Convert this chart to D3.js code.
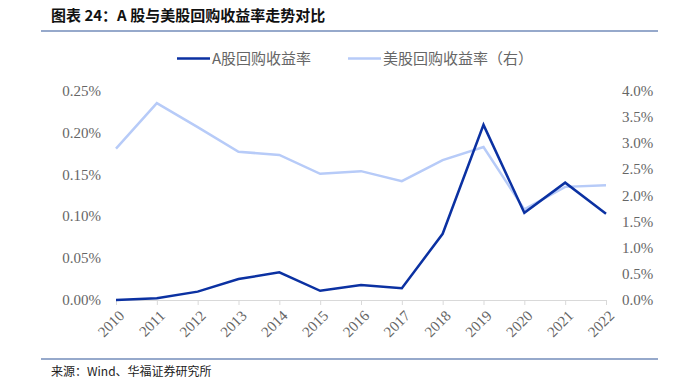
<!DOCTYPE html>
<html>
<head>
<meta charset="utf-8">
<script src="https://cdn.jsdelivr.net/npm/d3@7"></script>
<style>
  body { margin: 0; background: #fff; }
  svg { display: block; }
  .serif { font-family: "Liberation Serif", "Times New Roman", serif; }
  .cjk { font-family: "Noto Sans CJK SC", "Noto Sans", sans-serif; }
</style>
</head>
<body>
<div id="chart"></div>
<script>
// A股 vs 美股 buyback yield, 2010-2022
const years = ['2010', '2011', '2012', '2013', '2014', '2015', '2016',
  '2017', '2018', '2019', '2020', '2021', '2022'];
// left axis, %
const cnYield = [0.000, 0.002, 0.010, 0.025, 0.033, 0.011, 0.018,
  0.014, 0.079, 0.209, 0.104, 0.140, 0.103];
// right axis, %
const usYield = [2.89, 3.76, 3.30, 2.83, 2.77, 2.41, 2.46,
  2.27, 2.67, 2.92, 1.73, 2.16, 2.19];
const leftTicks = [0, 0.05, 0.10, 0.15, 0.20, 0.25];
const rightTicks = [0, 0.5, 1.0, 1.5, 2.0, 2.5, 3.0, 3.5, 4.0];
const seriesNames = ['A股回购收益率', '美股回购收益率（右）'];

const width = 679;
const height = 384;
const darkBlue = '#0b31a2';
const lightBlue = '#b7cbf8';
const labelGrey = '#666';

const svg = d3.select('#chart')
  .append('svg')
  .attr('width', width)
  .attr('height', height);

// header + footer rules
svg.append('text')
  .attr('class', 'cjk')
  .attr('x', 51)
  .attr('y', 21)
  .attr('font-weight', 'bold')
  .attr('font-size', 15)
  .attr('fill', '#111')
  .text('图表 24：A 股与美股回购收益率走势对比');

svg.append('line')
  .attr('x1', 41).attr('x2', 658)
  .attr('y1', 31).attr('y2', 31)
  .attr('stroke', '#2f5597').attr('stroke-width', 1.2);

svg.append('line')
  .attr('x1', 41).attr('x2', 658)
  .attr('y1', 359).attr('y2', 359)
  .attr('stroke', '#2f5597').attr('stroke-width', 1.2);

svg.append('text')
  .attr('class', 'cjk')
  .attr('x', 51)
  .attr('y', 376)
  .attr('font-size', 12)
  .attr('fill', '#222')
  .text('来源：Wind、华福证券研究所');

// scales
const x = d3.scalePoint().domain(years).range([116, 606]);
const yLeft = d3.scaleLinear().domain([0, 0.25]).range([300, 90.5]);
const yRight = d3.scaleLinear().domain([0, 4.0]).range([300, 90.5]);

// left axis labels
svg.append('g')
  .selectAll('text')
  .data(leftTicks)
  .join('text')
  .attr('class', 'serif')
  .attr('x', 101)
  .attr('y', d => yLeft(d))
  .attr('dy', '0.35em')
  .attr('text-anchor', 'end')
  .attr('font-size', 15)
  .attr('fill', labelGrey)
  .text(d => d3.format('.2f')(d) + '%');

// right axis labels
svg.append('g')
  .selectAll('text')
  .data(rightTicks)
  .join('text')
  .attr('class', 'serif')
  .attr('x', 622)
  .attr('y', d => yRight(d))
  .attr('dy', '0.35em')
  .attr('text-anchor', 'start')
  .attr('font-size', 15)
  .attr('fill', labelGrey)
  .text(d => d3.format('.1f')(d) + '%');

// x axis
const xAxis = svg.append('g')
  .attr('transform', `translate(0, ${yLeft(0)})`)
  .call(d3.axisBottom(x).tickSize(5).tickSizeOuter(0));

xAxis.attr('font-family', null);
xAxis.select('.domain').attr('stroke', '#d9d9d9');
xAxis.selectAll('.tick line').attr('stroke', '#d9d9d9');
xAxis.selectAll('.tick text')
  .attr('class', 'serif')
  .attr('font-size', 15)
  .attr('fill', labelGrey)
  .attr('text-anchor', 'end')
  .attr('x', 0)
  .attr('y', 0)
  .attr('dy', '0.35em')
  .attr('transform', 'translate(5, 13) rotate(-45)');

// lines
const cnLine = d3.line()
  .x((d, i) => x(years[i]))
  .y(d => yLeft(d));
const usLine = d3.line()
  .x((d, i) => x(years[i]))
  .y(d => yRight(d));

svg.append('path')
  .datum(usYield)
  .attr('fill', 'none')
  .attr('stroke', lightBlue)
  .attr('stroke-width', 2.5)
  .attr('d', usLine);

svg.append('path')
  .datum(cnYield)
  .attr('fill', 'none')
  .attr('stroke', darkBlue)
  .attr('stroke-width', 2.5)
  .attr('d', cnLine);

// legend
const legend = svg.append('g').attr('class', 'legend');
const legendItems = [
  { name: seriesNames[0], color: darkBlue, x0: 177 },
  { name: seriesNames[1], color: lightBlue, x0: 348 }
];
legendItems.forEach(item => {
  legend.append('line')
    .attr('x1', item.x0).attr('x2', item.x0 + 33)
    .attr('y1', 58.5).attr('y2', 58.5)
    .attr('stroke', item.color)
    .attr('stroke-width', 2.5);
  legend.append('text')
    .attr('class', 'cjk')
    .attr('x', item.x0 + 35)
    .attr('y', 58.5)
    .attr('dy', '0.35em')
    .attr('font-size', 15)
    .attr('fill', labelGrey)
    .text(item.name);
});
</script>
</body>
</html>
